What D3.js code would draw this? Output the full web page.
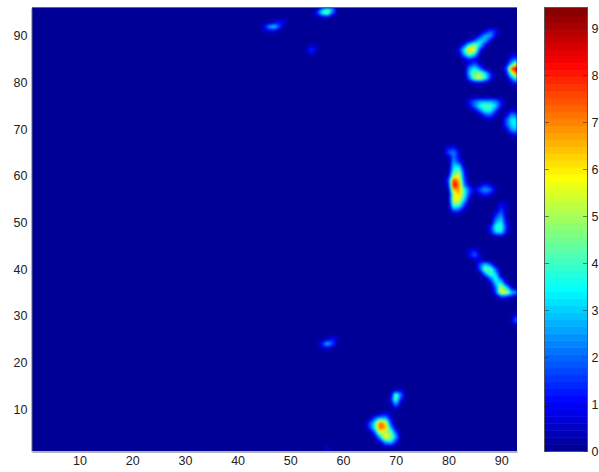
<!DOCTYPE html>
<html>
<head>
<meta charset="utf-8">
<script src="https://cdnjs.cloudflare.com/ajax/libs/d3/7.8.5/d3.min.js"></script>
<style>
  html, body { margin: 0; padding: 0; background: #fff; }
  svg { display: block; }
  text { font-family: "Liberation Sans", Arial, sans-serif; font-size: 12.5px; fill: #222; }
</style>
</head>
<body>
<div id="chart"></div>
<script>
// sparse rows of the heat map: [y, first x, values...], everything else is 0
var spotsTopMiddle = [
  [96, 56, 1.8, 3.0, 2.6],
  [95, 55, 1.2, 3.6, 5.0, 2.0],
  [94, 56, 0.6, 0.6],
  [93, 47, 0.5, 1.2, 0.8],
  [92, 45, 0.8, 2.6, 3.2, 1.4],
  [91, 45, 0.3, 0.6, 0.6],
  [88, 54, 0.5, 0.3],
  [87, 53, 0.4, 1.6, 0.5],
  [86, 54, 0.6]
];
var spotsUpperRight = [
  [91, 87, 0.9, 1.8, 1.2],
  [90, 86, 1.4, 2.8, 2.6, 0.6],
  [89, 84, 0.6, 1.8, 3.2, 2.8, 0.6],
  [88, 83, 1.6, 3.8, 5.0, 3.2, 0.8],
  [87, 82, 1.0, 3.6, 6.8, 5.4, 1.2],
  [86, 82, 0.3, 2.6, 4.4, 3.0, 0.4],
  [85, 83, 0.6, 1.2, 0.8],
  [84, 84, 1.0, 1.8, 0.7],
  [83, 84, 2.6, 3.4, 2.0, 0.4],
  [82, 84, 3.0, 4.8, 4.6, 3.2, 1.2],
  [81, 84, 2.2, 5.0, 5.6, 3.8, 1.4],
  [80, 84, 0.3, 0.8, 1.0, 0.5],
  [76, 84, 1.2, 2.0, 2.6, 2.6, 2.6, 2.2, 1.0],
  [75, 84, 0.8, 2.2, 3.6, 4.4, 4.0, 3.0, 1.0],
  [74, 85, 0.6, 2.2, 3.6, 3.4, 1.6],
  [73, 86, 0.3, 1.6, 1.8, 0.5],
  [72, 87, 0.2, 0.4]
];
var spotsRightEdge = [
  [86, 92, 0.6, 0.8],
  [85, 92, 1.6, 2.0],
  [84, 91, 0.6, 3.0, 5.6],
  [83, 91, 1.5, 7.8, 8.8],
  [82, 91, 0.8, 5.0, 7.4],
  [81, 92, 2.4, 4.4],
  [80, 92, 0.6, 1.8],
  [74, 92, 0.8, 0.6],
  [73, 91, 0.8, 2.4, 2.0],
  [72, 91, 1.8, 3.4, 3.2],
  [71, 91, 1.8, 3.2, 3.4],
  [70, 91, 0.8, 2.6, 3.0],
  [69, 92, 1.0, 1.4],
  [68, 93, 0.3],
  [30, 93, 1.4],
  [29, 92, 0.5, 2.6],
  [28, 93, 0.8]
];
var spotsColumn = [
  [66, 80, 1.0, 1.2],
  [65, 80, 1.8, 2.4, 0.8],
  [64, 80, 0.3, 2.2, 0.8],
  [63, 81, 2.6, 1.4],
  [62, 81, 3.2, 3.2, 0.4],
  [61, 81, 3.8, 4.6, 1.0],
  [60, 80, 0.5, 5.2, 5.6, 1.4],
  [59, 80, 1.6, 8.0, 6.4, 1.8],
  [58, 80, 1.0, 8.6, 7.0, 2.2, 0.8],
  [57, 80, 0.3, 6.6, 6.8, 3.8, 1.8],
  [56, 81, 5.2, 6.4, 3.8, 1.4],
  [55, 81, 5.6, 5.8, 3.2, 0.6],
  [54, 81, 4.8, 4.6, 1.8],
  [53, 81, 2.8, 2.4, 0.8],
  [52, 81, 0.5, 0.5],
  [58, 86, 0.7, 1.4, 0.8],
  [57, 85, 0.6, 1.8, 2.6, 2.0, 0.4],
  [56, 86, 0.8, 1.4, 0.8]
];
var spotsLowerRight = [
  [54, 90, 1.0, 0.5],
  [53, 90, 1.4, 0.4],
  [52, 89, 1.0, 2.0, 0.4],
  [51, 89, 1.8, 2.8, 0.4],
  [50, 89, 2.8, 3.4, 0.8],
  [49, 88, 1.2, 3.8, 4.0, 1.2],
  [48, 88, 1.0, 3.2, 3.4, 1.0],
  [47, 89, 0.4, 0.4],
  [44, 84, 0.8, 1.2],
  [43, 84, 1.0, 2.0, 0.6],
  [42, 85, 0.6, 0.4],
  [41, 86, 1.8, 3.0, 1.8],
  [40, 86, 1.8, 4.6, 4.2, 1.8],
  [39, 87, 2.6, 4.2, 3.0],
  [38, 88, 2.2, 3.8, 1.6],
  [37, 88, 0.6, 3.2, 3.6, 0.8],
  [36, 89, 2.0, 5.6, 3.4, 0.8],
  [35, 89, 1.6, 5.8, 5.4, 3.0, 2.4],
  [34, 90, 1.0, 1.2, 0.6]
];
var spotsBottom = [
  [25, 57, 0.5, 1.2, 0.5],
  [24, 56, 1.2, 3.0, 1.8],
  [23, 56, 0.4, 0.6],
  [14, 70, 0.6, 0.8],
  [13, 70, 4.6, 2.2],
  [12, 69, 0.9, 4.2, 1.0],
  [11, 70, 2.4, 0.3],
  [10, 70, 0.5],
  [9, 67, 0.4, 1.0, 0.4],
  [8, 66, 1.8, 2.8, 2.8, 1.0],
  [7, 65, 1.6, 3.4, 7.4, 6.2, 1.6],
  [6, 65, 1.4, 3.6, 7.4, 6.8, 3.0, 0.4],
  [5, 66, 1.8, 5.6, 4.8, 4.6, 1.8],
  [4, 66, 0.4, 2.8, 6.4, 5.0, 2.8],
  [3, 67, 0.8, 2.8, 3.4, 1.4],
  [2, 57, 0.3],
  [2, 68, 0.4, 0.6],
  [1, 57, 0.8]
];

var xTicks = [10, 20, 30, 40, 50, 60, 70, 80, 90];
var yTicks = [10, 20, 30, 40, 50, 60, 70, 80, 90];
var barTicks = [0, 1, 2, 3, 4, 5, 6, 7, 8, 9];
var jetStops = ['#00008f', '#0000ff', '#00ffff', '#ffff00', '#ff0000', '#800000'];
var jetPos = [0, 0.111, 0.365, 0.619, 0.873, 1];
var vMax = 9.43, nLevels = 64, nCols = 93, nRows = 96;

var width = 599,
    height = 472,
    left = 32, right = 517, top_ = 8, bottom = 451,
    barLeft = 545, barRight = 587;

var svg = d3.select('#chart').append('svg')
  .attr('width', width)
  .attr('height', height);

var x = d3.scaleLinear().domain([1, nCols]).range([left, right]);
var y = d3.scaleLinear().domain([1, nRows]).range([bottom, top_]);
var yBar = d3.scaleLinear().domain([0, vMax]).range([bottom, top_]);
var jet = d3.scaleLinear().domain(jetPos).range(jetStops);

function levelColor(v) {
  var k = Math.min(nLevels - 1, Math.floor(v / vMax * nLevels));
  return jet((k + 0.5) / nLevels);
}

// fill the grid from the sparse rows
var grid = d3.range(nRows + 2).map(function() { return new Float32Array(nCols + 2); });
[spotsTopMiddle, spotsUpperRight, spotsRightEdge, spotsColumn, spotsLowerRight, spotsBottom].forEach(function(rows) {
  rows.forEach(function(r) {
    r.slice(2).forEach(function(v, i) { grid[r[0]][r[1] + i] = v; });
  });
});

// shading interp: bilinear between grid nodes, one pixel at a time
var canvas = document.createElement('canvas');
canvas.width = right - left;
canvas.height = bottom - top_;
var ctx = canvas.getContext('2d');
var img = ctx.createImageData(canvas.width, canvas.height);
for (var py = 0; py < canvas.height; py++) {
  var gy = y.invert(top_ + py + 0.5), j = Math.floor(gy), fy = gy - j;
  for (var px = 0; px < canvas.width; px++) {
    var gx = x.invert(left + px + 0.5), i = Math.floor(gx), fx = gx - i;
    var v = (grid[j][i] * (1 - fx) + grid[j][i + 1] * fx) * (1 - fy) +
            (grid[j + 1][i] * (1 - fx) + grid[j + 1][i + 1] * fx) * fy;
    var c = d3.rgb(levelColor(v)), o = (py * canvas.width + px) * 4;
    img.data[o] = c.r; img.data[o + 1] = c.g; img.data[o + 2] = c.b; img.data[o + 3] = 255;
  }
}
ctx.putImageData(img, 0, 0);

// the reference is a soft jpeg, take the edge off the shading
var soft = document.createElement('canvas');
soft.width = canvas.width;
soft.height = canvas.height;
var softCtx = soft.getContext('2d');
softCtx.fillStyle = jet(0);
softCtx.fillRect(0, 0, soft.width, soft.height);
softCtx.filter = 'blur(0.8px)';
softCtx.drawImage(canvas, 0, 0);

svg.append('image')
  .attr('x', left).attr('y', top_)
  .attr('width', soft.width).attr('height', soft.height)
  .attr('href', soft.toDataURL());

// main axes
var xAxis = svg.append('g')
  .attr('transform', 'translate(0,' + (bottom + 0.5) + ')')
  .call(d3.axisBottom(x).tickValues(xTicks).tickSize(0).tickPadding(5));
var yAxis = svg.append('g')
  .attr('transform', 'translate(' + (left - 0.5) + ',0)')
  .call(d3.axisLeft(y).tickValues(yTicks).tickSize(0).tickPadding(4));
[xAxis, yAxis].forEach(function(a) {
  a.select('.domain').attr('stroke', '#667');
  a.attr('font-size', null).attr('font-family', null);
});
svg.append('line')
  .attr('x1', left).attr('x2', right)
  .attr('y1', top_ - 0.5).attr('y2', top_ - 0.5)
  .attr('stroke', '#667');

// colorbar
var levels = d3.range(nLevels);
svg.append('g').selectAll('rect')
  .data(levels)
  .enter().append('rect')
  .attr('x', barLeft)
  .attr('width', barRight - barLeft)
  .attr('y', function(d) { return yBar((d + 1) * vMax / nLevels); })
  .attr('height', function(d) { return yBar(d * vMax / nLevels) - yBar((d + 1) * vMax / nLevels) + 0.5; })
  .attr('fill', function(d) { return levelColor((d + 0.5) * vMax / nLevels); });

svg.append('rect')
  .attr('x', barLeft - 0.5).attr('y', top_ - 0.5)
  .attr('width', barRight - barLeft + 1).attr('height', bottom - top_ + 1)
  .attr('fill', 'none').attr('stroke', '#555');

var barAxis = svg.append('g')
  .attr('transform', 'translate(' + (barRight + 0.5) + ',0)')
  .call(d3.axisRight(yBar).tickValues(barTicks).tickSize(0).tickPadding(4));
barAxis.attr('font-size', null).attr('font-family', null);
barAxis.select('.domain').remove();

// colorbar ticks point inwards from both sides
svg.append('g').selectAll('path')
  .data(barTicks)
  .enter().append('path')
  .attr('d', function(d) {
    var py = Math.round(yBar(d)) + 0.5;
    return 'M' + barLeft + ',' + py + 'h4M' + (barRight - 4) + ',' + py + 'h4';
  })
  .attr('stroke', '#333')
  .attr('opacity', 0.6);
</script>
</body>
</html>
